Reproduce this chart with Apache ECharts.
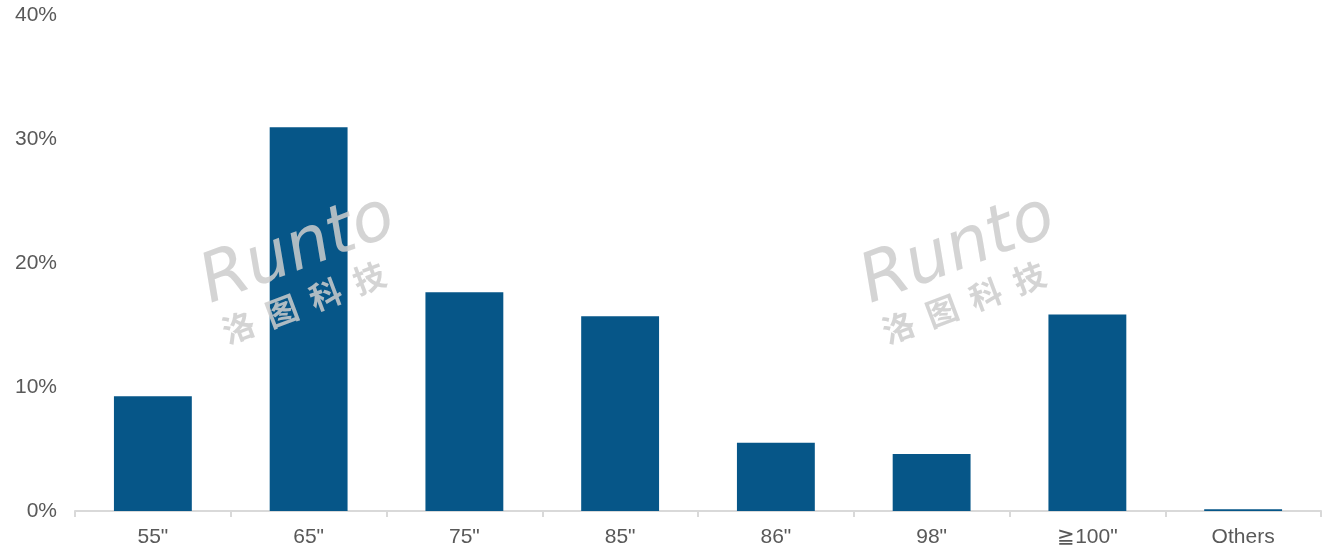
<!DOCTYPE html>
<html><head><meta charset="utf-8">
<script src="https://cdn.jsdelivr.net/npm/echarts@6/dist/echarts.min.js"></script>
<style>html,body{margin:0;padding:0;background:#fff}#c{width:1323px;height:552px}</style>
</head><body><div id="c"></div>
<script>
const categories = ['55"', '65"', '75"', '85"', '86"', '98"', '\u2267100"', 'Others'];
const shares = [9.25, 30.95, 17.65, 15.7, 5.5, 4.6, 15.85, 0.15];
const yTicks = [0, 10, 20, 30, 40];

function watermark(x, y) {
  return {
    type: 'group', x: x, y: y, rotation: 0.36,
    children: [
      { type: 'text', x: 0, y: 0, z: 100, zlevel: 1, style: { text: 'Runto', font: 'italic 68px "DejaVu Sans"', fill: 'rgba(205,205,205,0.85)' } },
      { type: 'text', x: 2, y: 68, z: 100, zlevel: 1, style: { text: '洛  图  科  技', font: 'bold 32px "Noto Sans CJK SC"', fill: 'rgba(205,205,205,0.85)' } }
    ]
  };
}

const chart = echarts.init(document.getElementById('c'));
chart.setOption({
  animation: false,
  grid: { left: 75, right: 2, top: 15, bottom: 41 },
  xAxis: {
    type: 'category', data: categories,
    axisLine: { lineStyle: { color: '#d9d9d9', width: 2 } },
    axisTick: { show: true, length: 6, lineStyle: { color: '#d9d9d9', width: 2 } },
    axisLabel: { color: '#595959', fontSize: 21, fontFamily: 'Liberation Sans', margin: 16 }
  },
  yAxis: {
    type: 'value', min: 0, max: 40, interval: 10,
    splitLine: { show: false },
    axisLine: { show: false }, axisTick: { show: false },
    axisLabel: { color: '#595959', fontSize: 21, fontFamily: 'Liberation Sans', margin: 18, formatter: v => yTicks.includes(v) ? v + '%' : '' }
  },
  series: [{
    type: 'bar', data: shares, barWidth: '50%',
    itemStyle: { color: '#065688' }
  }],
  graphic: [ watermark(192, 255), watermark(852, 255) ]
});
</script></body></html>
